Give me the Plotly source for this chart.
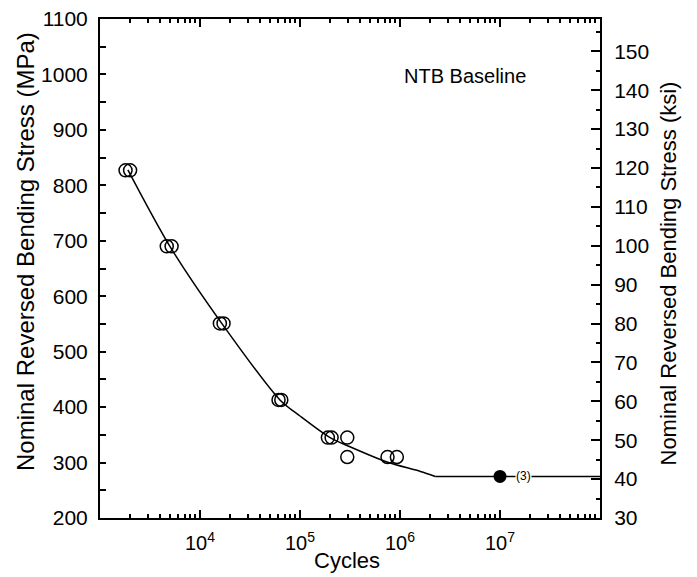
import plotly.graph_objects as go

# Open-circle test points (cycles, MPa)
cycles_open = [1.8e3, 2.0e3, 4.65e3, 5.2e3, 1.58e4, 1.72e4, 6.1e4, 6.5e4,
               1.9e5, 2.07e5, 2.97e5, 2.97e5, 7.5e5, 9.3e5]
stress_open = [827, 827, 690, 690, 551, 551, 413, 413,
               345, 345, 345, 310, 310, 310]

# Runout (filled) point
cycles_runout = [1.0e7]
stress_runout = [275]
stress_runout_ksi = [40]
runout_label = "(3)"

# Fitted S-N curve
curve_cycles = [1.9e3, 5.0e3, 1.65e4, 6.3e4, 1.0e5, 2.0e5, 3.2e5, 7.4e5, 1.6e6, 2.25e6]
curve_stress = [828, 690, 551, 413, 384, 345, 328, 301, 284, 275]
flat_cycles = [2.25e6, 1.0e8]
flat_stress = [275, 275]

x_ticks = [1e4, 1e5, 1e6, 1e7]
x_ticktext = ["10<sup>4</sup>", "10<sup>5</sup>", "10<sup>6</sup>", "10<sup>7</sup>"]
x_minor = [m * 10 ** d for d in range(3, 8) for m in range(2, 10)]

FONT = "Liberation Sans, Arial, sans-serif"
TICK_SIZE = 21

fig = go.Figure()
fig.add_trace(go.Scatter(x=curve_cycles, y=curve_stress, mode="lines",
                         line=dict(color="black", width=1.5, shape="spline", smoothing=0.8),
                         showlegend=False, hoverinfo="skip"))
fig.add_trace(go.Scatter(x=flat_cycles, y=flat_stress, mode="lines",
                         line=dict(color="black", width=1.5),
                         showlegend=False, hoverinfo="skip"))
fig.add_trace(go.Scatter(x=cycles_open, y=stress_open, mode="markers",
                         marker=dict(symbol="circle-open", size=13, color="black",
                                     line=dict(width=1.5, color="black")),
                         showlegend=False))
fig.add_trace(go.Scatter(x=cycles_runout, y=stress_runout, mode="markers",
                         marker=dict(symbol="circle", size=13, color="black"),
                         showlegend=False))
# same runout point expressed in ksi on the secondary axis (invisible, keeps y2 drawn)
fig.add_trace(go.Scatter(x=cycles_runout, y=stress_runout_ksi, yaxis="y2", mode="markers",
                         marker=dict(size=1, opacity=0), showlegend=False, hoverinfo="skip"))

fig.add_annotation(x=7.23, y=stress_runout[0], xref="x", yref="y", text=runout_label,
                   showarrow=False, font=dict(family=FONT, size=12, color="black"),
                   bgcolor="white", borderpad=0)
fig.add_annotation(x=0.73, y=0.886, xref="paper", yref="paper", text="NTB Baseline",
                   xanchor="center", yanchor="middle",
                   showarrow=False, font=dict(family=FONT, size=20, color="black"))
# axis titles
fig.add_annotation(x=-0.15, y=(518 - 252) / 499, xref="paper", yref="paper",
                   text="Nominal Reversed Bending Stress (MPa)", textangle=-90,
                   xanchor="center", yanchor="middle", showarrow=False,
                   font=dict(family=FONT, size=24, color="black"))
fig.add_annotation(x=(667.5 - 100) / 500, y=(518 - 274) / 499, xref="paper", yref="paper",
                   text="Nominal Reversed Bending Stress (ksi)", textangle=-90,
                   xanchor="center", yanchor="middle", showarrow=False,
                   font=dict(family=FONT, size=22, color="black"))
fig.add_annotation(x=0.494, y=(518 - 560) / 499, xref="paper", yref="paper",
                   text="Cycles", xanchor="center", yanchor="middle", showarrow=False,
                   font=dict(family=FONT, size=22, color="black"))

fig.update_layout(
    width=697, height=577,
    margin=dict(l=100, r=97, t=19, b=59),
    paper_bgcolor="white", plot_bgcolor="white",
    font=dict(family=FONT, color="black"),
    xaxis=dict(type="log", range=[3, 8], showgrid=False, zeroline=False, automargin=False,
               showline=True, linewidth=2, linecolor="black", mirror="ticks",
               ticks="inside", ticklen=8, tickwidth=1.5, tickcolor="black",
               tickmode="array", tickvals=x_ticks, ticktext=x_ticktext,
               tickfont=dict(size=20), ticklabelstandoff=6,
               minor=dict(tickmode="array", tickvals=x_minor, ticks="inside",
                          ticklen=4, tickwidth=1.5, tickcolor="black", showgrid=False)),
    yaxis=dict(range=[200, 1100], showgrid=False, zeroline=False, automargin=False,
               showline=True, linewidth=2, linecolor="black",
               ticks="inside", ticklen=6, tickwidth=1.5, tickcolor="black",
               dtick=100, tickfont=dict(size=TICK_SIZE), ticklabelstandoff=6,
               minor=dict(dtick=50, ticks="inside", ticklen=6, tickwidth=1.5,
                          tickcolor="black", showgrid=False)),
    yaxis2=dict(range=[30, 158.3], overlaying="y", side="right", showgrid=False,
                zeroline=False, showline=True, linewidth=2, linecolor="black",
                automargin=False,
                ticks="inside", ticklen=9, tickwidth=1.5, tickcolor="black",
                dtick=10, tickfont=dict(size=TICK_SIZE), ticklabelstandoff=8,
                minor=dict(dtick=5, ticks="inside", ticklen=4, tickwidth=1.5,
                           tickcolor="black", showgrid=False)),
)

fig.write_html("out.html")
